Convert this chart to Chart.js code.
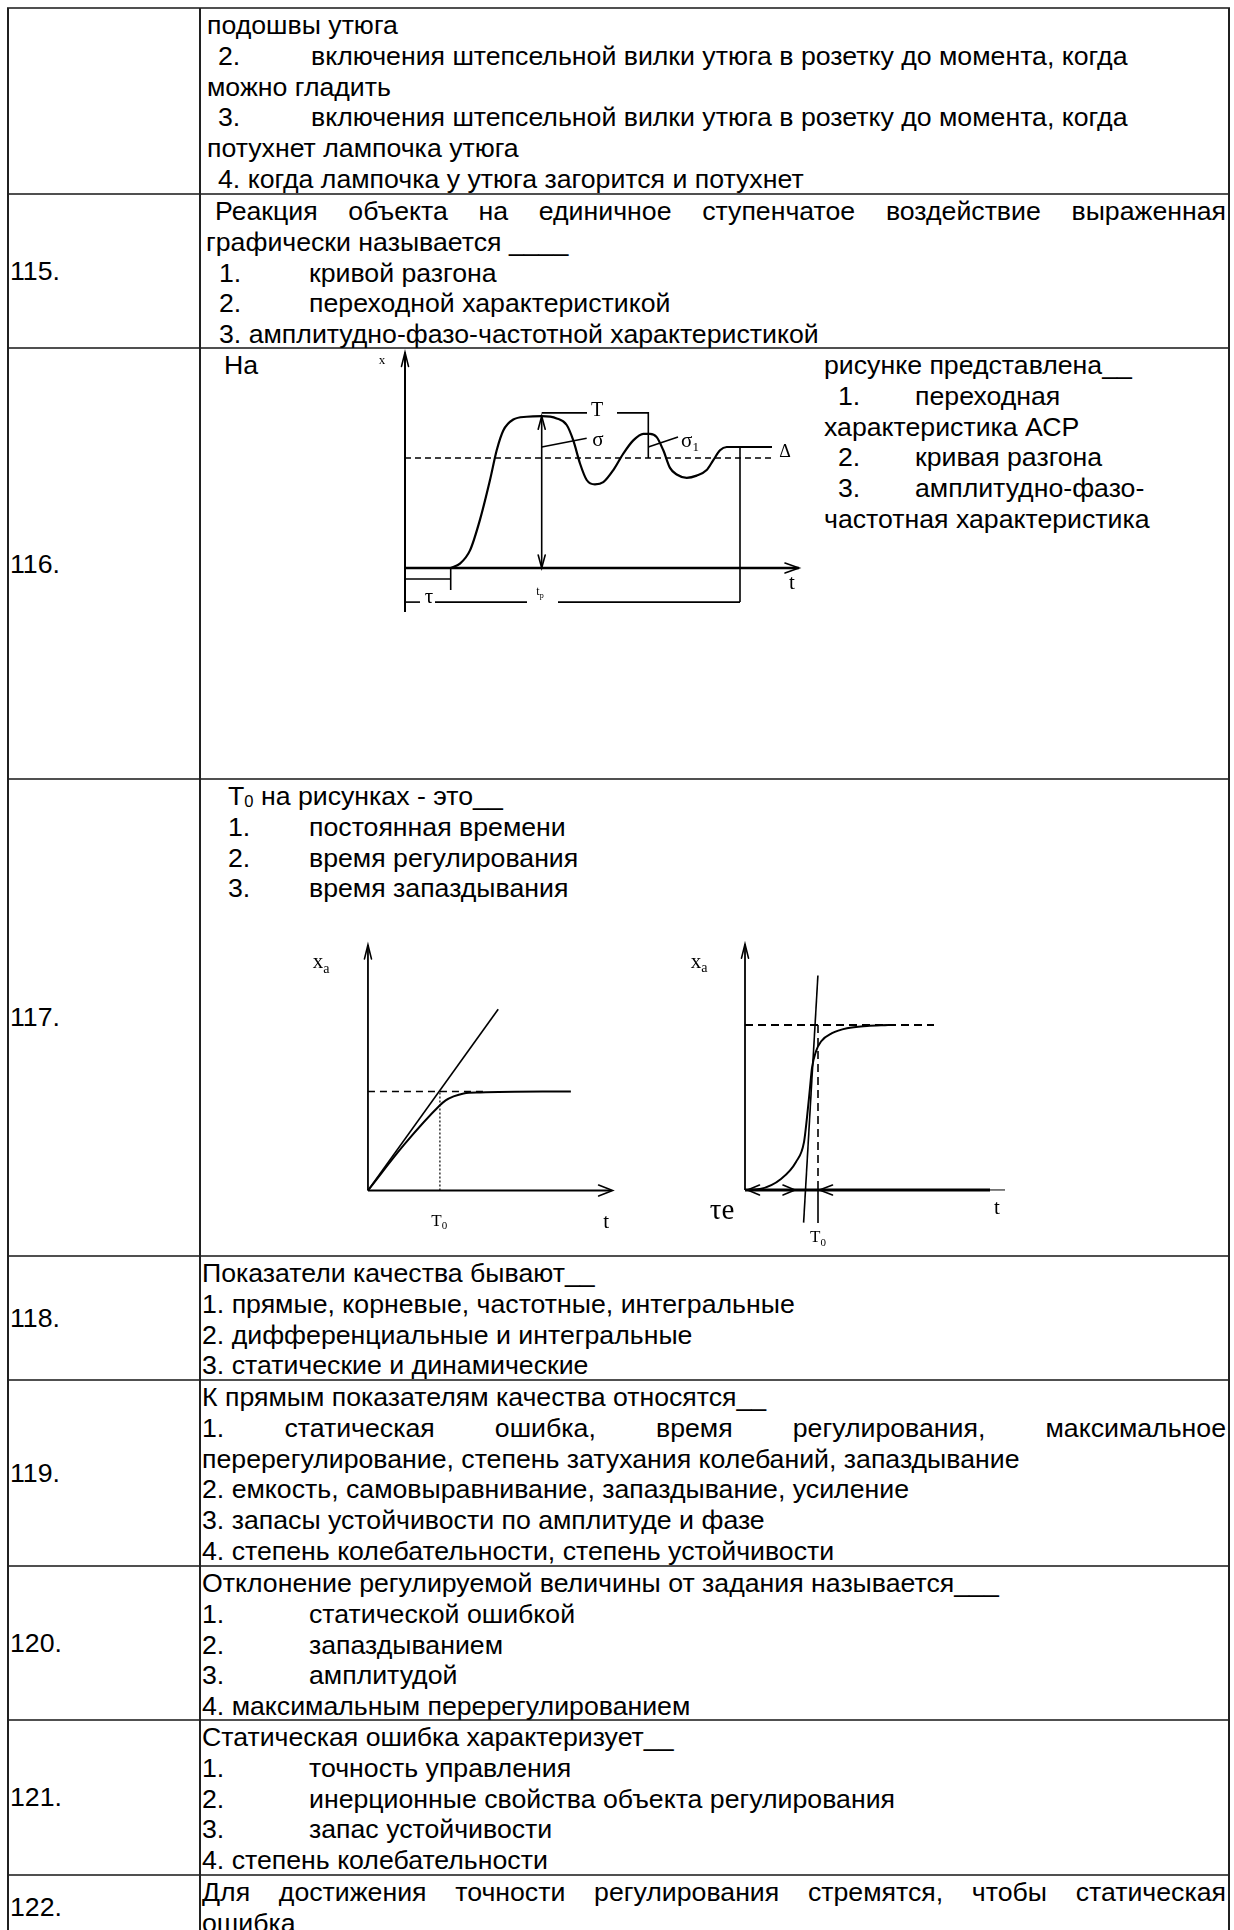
<!DOCTYPE html>
<html>
<head>
<meta charset="utf-8">
<script src="https://cdn.jsdelivr.net/npm/chart.js@4.4.0/dist/chart.umd.min.js"></script>
<style>
  body { margin: 0; background: #fff; width: 1234px; height: 1930px; overflow: hidden; position: relative;
         font-family: "Liberation Sans", Arial, sans-serif; font-size: 26.7px; color: #000; }
  .l { position: absolute; white-space: pre; line-height: 30.8px; height: 30.8px; }
  .j { text-align: justify; text-align-last: justify; white-space: normal; }
  .l sub { font-size: 0.62em; vertical-align: -0.15em; line-height: 0; }
  .h { position: absolute; left: 7px; width: 1223px; height: 2px; background: #505050; }
  .v { position: absolute; top: 8px; height: 1922px; width: 1.5px; background: #202020; }
  canvas { position: absolute; }
</style>
</head>
<body>

<!-- table grid -->
<div class="h" style="top:7px"></div>
<div class="h" style="top:193px"></div>
<div class="h" style="top:347px"></div>
<div class="h" style="top:778px"></div>
<div class="h" style="top:1255px"></div>
<div class="h" style="top:1379px"></div>
<div class="h" style="top:1565px"></div>
<div class="h" style="top:1719px"></div>
<div class="h" style="top:1874px"></div>
<div class="v" style="left:7px"></div>
<div class="v" style="left:199px"></div>
<div class="v" style="left:1228px"></div>

<!-- first (continued) row -->
<div class="l" style="left:207px;top:10px">подошвы утюга</div>
<div class="l" style="left:218px;top:40.8px">2.</div>
<div class="l" style="left:311px;top:40.8px">включения штепсельной вилки утюга в розетку до момента, когда</div>
<div class="l" style="left:207px;top:71.6px">можно гладить</div>
<div class="l" style="left:218px;top:102.4px">3.</div>
<div class="l" style="left:311px;top:102.4px">включения штепсельной вилки утюга в розетку до момента, когда</div>
<div class="l" style="left:207px;top:133.2px">потухнет лампочка утюга</div>
<div class="l" style="left:218px;top:164px">4. когда лампочка у утюга загорится и потухнет</div>

<!-- 115 -->
<div class="l" style="left:10px;top:256px">115.</div>
<div class="l j" style="left:215px;top:196px;width:1011px">Реакция объекта на единичное ступенчатое воздействие выраженная</div>
<div class="l" style="left:206px;top:226.8px">графически называется ____</div>
<div class="l" style="left:219px;top:257.6px">1.</div>
<div class="l" style="left:309px;top:257.6px">кривой разгона</div>
<div class="l" style="left:219px;top:288.4px">2.</div>
<div class="l" style="left:309px;top:288.4px">переходной характеристикой</div>
<div class="l" style="left:219px;top:319.2px">3. амплитудно-фазо-частотной характеристикой</div>

<!-- 116 -->
<div class="l" style="left:10px;top:549px">116.</div>
<div class="l" style="left:224px;top:350px">На</div>
<div class="l" style="left:824px;top:350px">рисунке представлена__</div>
<div class="l" style="left:838px;top:380.8px">1.</div>
<div class="l" style="left:915px;top:380.8px">переходная</div>
<div class="l" style="left:824px;top:411.6px">характеристика АСР</div>
<div class="l" style="left:838px;top:442.4px">2.</div>
<div class="l" style="left:915px;top:442.4px">кривая разгона</div>
<div class="l" style="left:838px;top:473.2px">3.</div>
<div class="l" style="left:915px;top:473.2px">амплитудно-фазо-</div>
<div class="l" style="left:824px;top:504px">частотная характеристика</div>

<!-- 117 -->
<div class="l" style="left:10px;top:1002px">117.</div>
<div class="l" style="left:228px;top:781px">T<sub>0</sub> на рисунках - это__</div>
<div class="l" style="left:228px;top:811.8px">1.</div>
<div class="l" style="left:309px;top:811.8px">постоянная времени</div>
<div class="l" style="left:228px;top:842.6px">2.</div>
<div class="l" style="left:309px;top:842.6px">время регулирования</div>
<div class="l" style="left:228px;top:873.4px">3.</div>
<div class="l" style="left:309px;top:873.4px">время запаздывания</div>

<!-- 118 -->
<div class="l" style="left:10px;top:1303px">118.</div>
<div class="l" style="left:202px;top:1258px">Показатели качества бывают__</div>
<div class="l" style="left:202px;top:1288.8px">1. прямые, корневые, частотные, интегральные</div>
<div class="l" style="left:202px;top:1319.6px">2. дифференциальные и интегральные</div>
<div class="l" style="left:202px;top:1350.4px">3. статические и динамические</div>

<!-- 119 -->
<div class="l" style="left:10px;top:1458px">119.</div>
<div class="l" style="left:202px;top:1382px">К прямым показателям качества относятся__</div>
<div class="l j" style="left:202px;top:1412.8px;width:1024px">1. статическая ошибка, время регулирования, максимальное</div>
<div class="l" style="left:202px;top:1443.6px">перерегулирование, степень затухания колебаний, запаздывание</div>
<div class="l" style="left:202px;top:1474.4px">2. емкость, самовыравнивание, запаздывание, усиление</div>
<div class="l" style="left:202px;top:1505.2px">3. запасы устойчивости по амплитуде и фазе</div>
<div class="l" style="left:202px;top:1536px">4. степень колебательности, степень устойчивости</div>

<!-- 120 -->
<div class="l" style="left:10px;top:1628px">120.</div>
<div class="l" style="left:202px;top:1568px">Отклонение регулируемой величины от задания называется___</div>
<div class="l" style="left:202px;top:1598.8px">1.</div>
<div class="l" style="left:309px;top:1598.8px">статической ошибкой</div>
<div class="l" style="left:202px;top:1629.6px">2.</div>
<div class="l" style="left:309px;top:1629.6px">запаздыванием</div>
<div class="l" style="left:202px;top:1660.4px">3.</div>
<div class="l" style="left:309px;top:1660.4px">амплитудой</div>
<div class="l" style="left:202px;top:1691.2px">4. максимальным перерегулированием</div>

<!-- 121 -->
<div class="l" style="left:10px;top:1782px">121.</div>
<div class="l" style="left:202px;top:1722px">Статическая ошибка характеризует__</div>
<div class="l" style="left:202px;top:1752.8px">1.</div>
<div class="l" style="left:309px;top:1752.8px">точность управления</div>
<div class="l" style="left:202px;top:1783.6px">2.</div>
<div class="l" style="left:309px;top:1783.6px">инерционные свойства объекта регулирования</div>
<div class="l" style="left:202px;top:1814.4px">3.</div>
<div class="l" style="left:309px;top:1814.4px">запас устойчивости</div>
<div class="l" style="left:202px;top:1845.2px">4. степень колебательности</div>

<!-- 122 -->
<div class="l" style="left:10px;top:1892px">122.</div>
<div class="l j" style="left:202px;top:1877px;width:1024px">Для достижения точности регулирования стремятся, чтобы статическая</div>
<div class="l" style="left:202px;top:1907.8px">ошибка</div>

<canvas id="c116" width="460" height="286" style="left:365px;top:348px"></canvas>
<canvas id="c117a" width="331" height="307" style="left:296px;top:933px"></canvas>
<canvas id="c117b" width="330" height="325" style="left:685px;top:926px"></canvas>

<script>
// --- 116: transient response of the control loop (t, x), steady value = 1 ---
const respT = [4.57, 5.5, 6.5, 7.5, 8.5, 9.17, 9.83, 10.83, 12.17, 13.67, 15.17, 16.17, 16.83, 17.5, 18.17,
               19.0, 19.83, 20.83, 21.83, 22.83, 23.83, 24.5, 25.17, 25.83, 26.5, 27.17, 28.17, 29.17,
               30.17, 30.83, 31.5, 32.17, 36.17];
const respX = [0, 0.04, 0.16, 0.44, 0.80, 1.07, 1.25, 1.35, 1.375, 1.38, 1.36, 1.30, 1.16, 0.95, 0.80,
               0.76, 0.78, 0.89, 1.04, 1.16, 1.22, 1.22, 1.19, 1.07, 0.91, 0.85, 0.82, 0.84,
               0.89, 0.98, 1.07, 1.10, 1.10];
const delay116 = 4.57, settle116 = 33.5, peakT116 = 13.67, peakX116 = 1.38;
const secondPeakT116 = 24.33, staticX116 = 1.10;

// --- 117 left: first-order curve with tangent at origin ---
const lagT = [0, 0.5, 1.0, 1.08, 1.19, 1.33, 1.56, 2.82];
const lagX = [0, 0.46, 0.86, 0.91, 0.95, 0.98, 0.99, 1.0];
const tangentA = [[0, 0], [1.81, 1.83]];
const T0a = 1.0;

// --- 117 right: S-shaped curve with inflection tangent ---
const sT = [0.2, 1.5, 3.6, 5.1, 5.9, 6.2, 6.5, 6.7, 7.1, 7.6, 8.7, 10.2, 12.2, 14.3];
const sX = [0, 0.006, 0.067, 0.17, 0.29, 0.44, 0.62, 0.74, 0.84, 0.90, 0.95, 0.98, 0.994, 1.0];
const tangentB = [[5.86, -0.198], [7.29, 1.30]];
const tauE = 5.1, T0b = 7.3;

const zip = (xs, ys) => xs.map((v, i) => ({ x: v, y: ys[i] }));
const pts = arr => arr.map(p => ({ x: p[0], y: p[1] }));

function seg(points, width, dash) {
  return {
    data: pts(points), showLine: true, pointRadius: 0, borderColor: '#000',
    borderWidth: width || 1.6, borderDash: dash || [], tension: 0, clip: false
  };
}
function curve(data, width) {
  return {
    data: data, showLine: true, pointRadius: 0, borderColor: '#000',
    borderWidth: width || 2, cubicInterpolationMode: 'monotone', clip: false
  };
}

const overlay = {
  id: 'overlay',
  afterDatasetsDraw(chart, args, opts) {
    const { ctx } = chart;
    const xs = chart.scales.x, ys = chart.scales.y;
    ctx.save();
    ctx.strokeStyle = '#000';
    ctx.fillStyle = '#000';
    ctx.lineCap = 'round';
    (opts.arrows || []).forEach(a => {
      const px = xs.getPixelForValue(a[0]), py = ys.getPixelForValue(a[1]);
      const ang = { up: -Math.PI / 2, down: Math.PI / 2, left: Math.PI, right: 0 }[a[2]];
      const L = a[3] || 13, W = a[4] || 4.5;
      const bx = px - L * Math.cos(ang), by = py - L * Math.sin(ang);
      const nx = -Math.sin(ang) * W, ny = Math.cos(ang) * W;
      ctx.lineWidth = a[5] || 1.6;
      ctx.beginPath();
      ctx.moveTo(bx + nx, by + ny);
      ctx.lineTo(px, py);
      ctx.lineTo(bx - nx, by - ny);
      ctx.stroke();
    });
    (opts.labels || []).forEach(l => {
      const [vx, vy, txt, size, sub, subSize] = l;
      const px = xs.getPixelForValue(vx), py = ys.getPixelForValue(vy);
      const f = s => s + 'px "Liberation Serif", "Times New Roman", serif';
      ctx.font = f(size);
      const w1 = ctx.measureText(txt).width;
      let w2 = 0;
      if (sub) { ctx.font = f(subSize); w2 = ctx.measureText(sub).width; }
      const x0 = px - (w1 + w2) / 2;
      ctx.textBaseline = 'middle';
      ctx.textAlign = 'left';
      ctx.font = f(size);
      ctx.fillText(txt, x0, py);
      if (sub) { ctx.font = f(subSize); ctx.fillText(sub, x0 + w1, py + size * 0.3); }
    });
    ctx.restore();
  }
};

function build(id, xr, yr, datasets, extra) {
  new Chart(document.getElementById(id), {
    type: 'scatter',
    data: { datasets: datasets },
    options: {
      responsive: false,
      animation: false,
      events: [],
      layout: { padding: 0 },
      scales: {
        x: { type: 'linear', display: false, min: xr[0], max: xr[1] },
        y: { type: 'linear', display: false, min: yr[0], max: yr[1] }
      },
      plugins: { legend: { display: false }, tooltip: { enabled: false }, overlay: extra }
    },
    plugins: [overlay]
  });
}

// chart 116
build('c116', [-4, 42], [-0.6, 2.0], [
  curve(zip(respT, respX), 2.2),
  seg([[0, -0.4], [0, 1.96]], 2),
  seg([[0, 0], [39.4, 0]], 2.6),
  seg([[0, 1], [36.7, 1]], 1.6, [6, 4]),
  seg([[0, -0.1], [delay116, -0.1]], 1.6),
  seg([[delay116, 0], [delay116, -0.2]], 1.6),
  seg([[0, -0.31], [1.5, -0.31]], 1.6),
  seg([[3.0, -0.31], [12.2, -0.31]], 1.6),
  seg([[15.3, -0.31], [settle116, -0.31]], 1.6),
  seg([[settle116, staticX116], [settle116, -0.31]], 1.6),
  seg([[peakT116, 0], [peakT116, peakX116]], 1.6),
  seg([[peakT116, 1.41], [18.2, 1.41]], 1.6),
  seg([[21.2, 1.41], [secondPeakT116, 1.41], [secondPeakT116, 1.0]], 1.6),
  seg([[peakT116, staticX116], [18.17, 1.18]], 1.6),
  seg([[secondPeakT116, staticX116], [27.3, 1.19]], 1.6),
  seg([[32.17, staticX116], [36.7, staticX116]], 2)
], {
  arrows: [[0, 1.96, 'up', 14, 3.5], [39.4, 0, 'right', 14, 5], [peakT116, peakX116, 'up', 13, 3.5], [peakT116, 0, 'down', 13, 3.5]],
  labels: [[-2.3, 1.89, 'x', 13], [38.7, -0.14, 't', 21], [19.2, 1.43, 'T', 20], [19.3, 1.16, 'σ', 21],
           [28.5, 1.15, 'σ', 21, '1', 13], [38.0, 1.05, 'Δ', 18], [2.4, -0.27, 'τ', 21], [13.5, -0.22, 't', 12, 'p', 8]]
});

// chart 117 left
build('c117a', [-1, 3.6], [-0.5, 2.6], [
  curve(zip(lagT, lagX), 2),
  seg(tangentA, 1.6),
  seg([[0, 0], [0, 2.48]], 1.8),
  seg([[0, 0], [3.38, 0]], 2.2),
  seg([[0, 1], [1.6, 1]], 1.6, [7, 5]),
  seg([[T0a, 0], [T0a, 1]], 1.2, [2, 2])
], {
  arrows: [[0, 2.48, 'up', 14, 3.5], [3.40, 0, 'right', 14, 5.5]],
  labels: [[-0.65, 2.30, 'x', 21, 'a', 14], [0.99, -0.31, 'T', 17, '0', 11], [3.31, -0.32, 't', 21]]
});

// chart 117 right
build('c117b', [-6, 27], [-0.37, 1.6], [
  curve(zip(sT, sX), 2),
  seg(tangentB, 1.6),
  seg([[0, 0], [0, 1.49]], 1.8),
  seg([[0, 0], [24.5, 0]], 3),
  seg([[24.5, 0], [26, 0]], 1, []),
  seg([[0, 1], [18.9, 1]], 1.8, [8, 5]),
  seg([[T0b, 1], [T0b, 0]], 1.6, [8, 5]),
  seg([[T0b, 0], [T0b, -0.2]], 1.6)
], {
  arrows: [[0, 1.49, 'up', 14, 3.5], [0.25, 0, 'left', 12, 5], [tauE - 0.1, 0, 'right', 12, 5], [7.45, 0, 'left', 13, 5]],
  labels: [[-4.6, 1.38, 'x', 21, 'a', 14], [-2.3, -0.13, 'τe', 29], [25.2, -0.11, 't', 21], [T0b, -0.29, 'T', 17, '0', 11]]
});
</script>
</body>
</html>
